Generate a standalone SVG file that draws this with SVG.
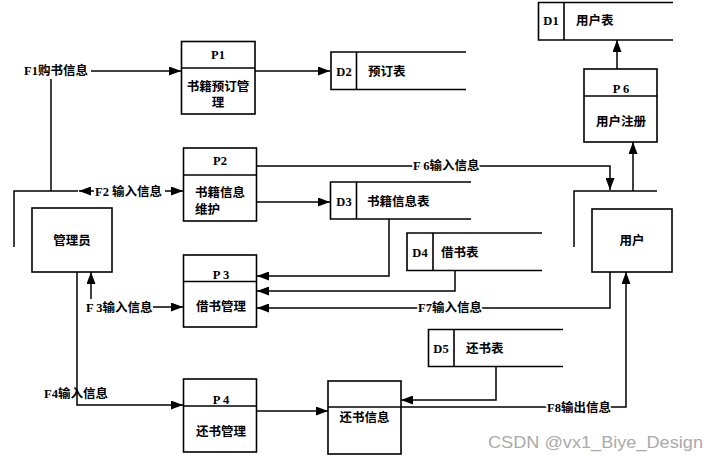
<svg xmlns="http://www.w3.org/2000/svg" width="719" height="462" viewBox="0 0 719 462">
<style>
.b{fill:#fff;stroke:#000;stroke-width:1.6}
.s{fill:none;stroke:#000;stroke-width:1.6}
.c{fill:none;stroke:#000;stroke-width:1.5}
.t{font-family:"Liberation Serif","Noto Sans CJK SC",serif;font-size:12.5px;font-weight:bold;fill:#000}
.m{text-anchor:middle}
.l{paint-order:stroke;stroke:#fff;stroke-width:4px}
</style>
<defs>
<marker id="a" markerUnits="userSpaceOnUse" markerWidth="13" markerHeight="9" refX="12" refY="4.5" orient="auto">
<path d="M0,0 L12,4.5 L0,9 z" fill="#000"/>
</marker>
</defs>
<rect width="719" height="462" fill="#fff"/>
<g id="connectors">
<path class="c" d="M51,191 V79"/>
<path class="c" d="M91,71 H181" marker-end="url(#a)"/>
<path class="c" d="M14,247 V191 H78"/>
<path class="c" d="M94,191 H79" marker-end="url(#a)"/>
<path class="c" d="M165,191 H183" marker-end="url(#a)"/>
<path class="c" d="M255,71 H330" marker-end="url(#a)"/>
<path class="c" d="M257,166 H610 V190" marker-end="url(#a)"/>
<path class="c" d="M257,202 H330" marker-end="url(#a)"/>
<path class="c" d="M574,247 V191 H657"/>
<path class="c" d="M633,191 V142" marker-end="url(#a)"/>
<path class="c" d="M617,69 V40" marker-end="url(#a)"/>
<path class="c" d="M389,219 V276 H257" marker-end="url(#a)"/>
<path class="c" d="M455,271 V291 H257" marker-end="url(#a)"/>
<path class="c" d="M610,272 V308 H257" marker-end="url(#a)"/>
<path class="c" d="M91,299 V272" marker-end="url(#a)"/>
<path class="c" d="M153,307 H183" marker-end="url(#a)"/>
<path class="c" d="M77,272 V405 H183" marker-end="url(#a)"/>
<path class="c" d="M257,411 H328" marker-end="url(#a)"/>
<path class="c" d="M496,367 V400 H401" marker-end="url(#a)"/>
<path class="c" d="M401,407 H626 V272" marker-end="url(#a)"/>
<text class="t" x="24" y="75">F1购书信息</text>
<text class="t" x="95" y="196">F2 输入信息</text>
<text class="t l" x="413" y="170">F 6输入信息</text>
<text class="t" x="86" y="312">F 3输入信息</text>
<text class="t l" x="418" y="312">F7输入信息</text>
<text class="t" x="44" y="398">F4输入信息</text>
<text class="t l" x="547" y="412">F8输出信息</text>
</g>
<g id="P1">
<rect class="b" x="181.5" y="41.5" width="73.5" height="72.5"/>
<path class="s" d="M181.5,68 H255"/>
<text class="t m" x="218" y="59">P1</text>
<text class="t m" x="218" y="91">书籍预订管</text>
<text class="t m" x="218" y="107">理</text>
</g>
<g id="P2">
<rect class="b" x="183.5" y="148" width="73" height="73"/>
<path class="s" d="M183.5,175 H256.5"/>
<text class="t m" x="220" y="165">P2</text>
<text class="t" x="195" y="197">书籍信息</text>
<text class="t" x="195" y="214">维护</text>
</g>
<g id="P3">
<rect class="b" x="183.5" y="255" width="73" height="72"/>
<path class="s" d="M183.5,281.5 H256.5"/>
<text class="t m" x="221" y="279">P 3</text>
<text class="t m" x="221" y="311">借书管理</text>
</g>
<g id="P4">
<rect class="b" x="183.5" y="379" width="73" height="73"/>
<path class="s" d="M183.5,406 H256.5"/>
<text class="t m" x="221" y="404">P 4</text>
<text class="t m" x="221" y="436">还书管理</text>
</g>
<g id="P6">
<rect class="b" x="584" y="69" width="73" height="73"/>
<path class="s" d="M584,96 H657"/>
<text class="t m" x="621" y="93">P 6</text>
<text class="t m" x="621" y="126">用户注册</text>
</g>
<g id="huanshuxinxi">
<rect class="b" x="328" y="381" width="73" height="73"/>
<path class="s" d="M328,407 H401"/>
<text class="t m" x="364.5" y="422">还书信息</text>
</g>
<g id="guanliyuan">
<rect class="b" x="32" y="208" width="80" height="64"/>
<text class="t m" x="72" y="245">管理员</text>
</g>
<g id="yonghu">
<rect class="b" x="592" y="209" width="80" height="63"/>
<text class="t m" x="632" y="245">用户</text>
</g>
<g id="D1">
<path class="s" d="M673,2.5 H538.5 V40 H673 M564,2.5 V40"/>
<text class="t m" x="551" y="25">D1</text>
<text class="t" x="576" y="25">用户表</text>
</g>
<g id="D2">
<path class="s" d="M466,52 H331 V89.5 H466 M356.5,52 V89.5"/>
<text class="t m" x="344" y="76">D2</text>
<text class="t" x="368" y="76">预订表</text>
</g>
<g id="D3">
<path class="s" d="M471,182 H330.5 V219 H471 M356.5,182 V219"/>
<text class="t m" x="344" y="206">D3</text>
<text class="t" x="367" y="206">书籍信息表</text>
</g>
<g id="D4">
<path class="s" d="M542,233 H407 V270.5 H542 M433,233 V270.5"/>
<text class="t m" x="420" y="257">D4</text>
<text class="t" x="441" y="257">借书表</text>
</g>
<g id="D5">
<path class="s" d="M563,329.5 H428.5 V366.5 H563 M454,329.5 V366.5"/>
<text class="t m" x="441" y="353">D5</text>
<text class="t" x="466" y="353">还书表</text>
</g>
<text x="488" y="448" textLength="215" lengthAdjust="spacingAndGlyphs" font-family="Liberation Sans, sans-serif" font-size="17" fill="#aaa">CSDN @vx1_Biye_Design</text>
</svg>
